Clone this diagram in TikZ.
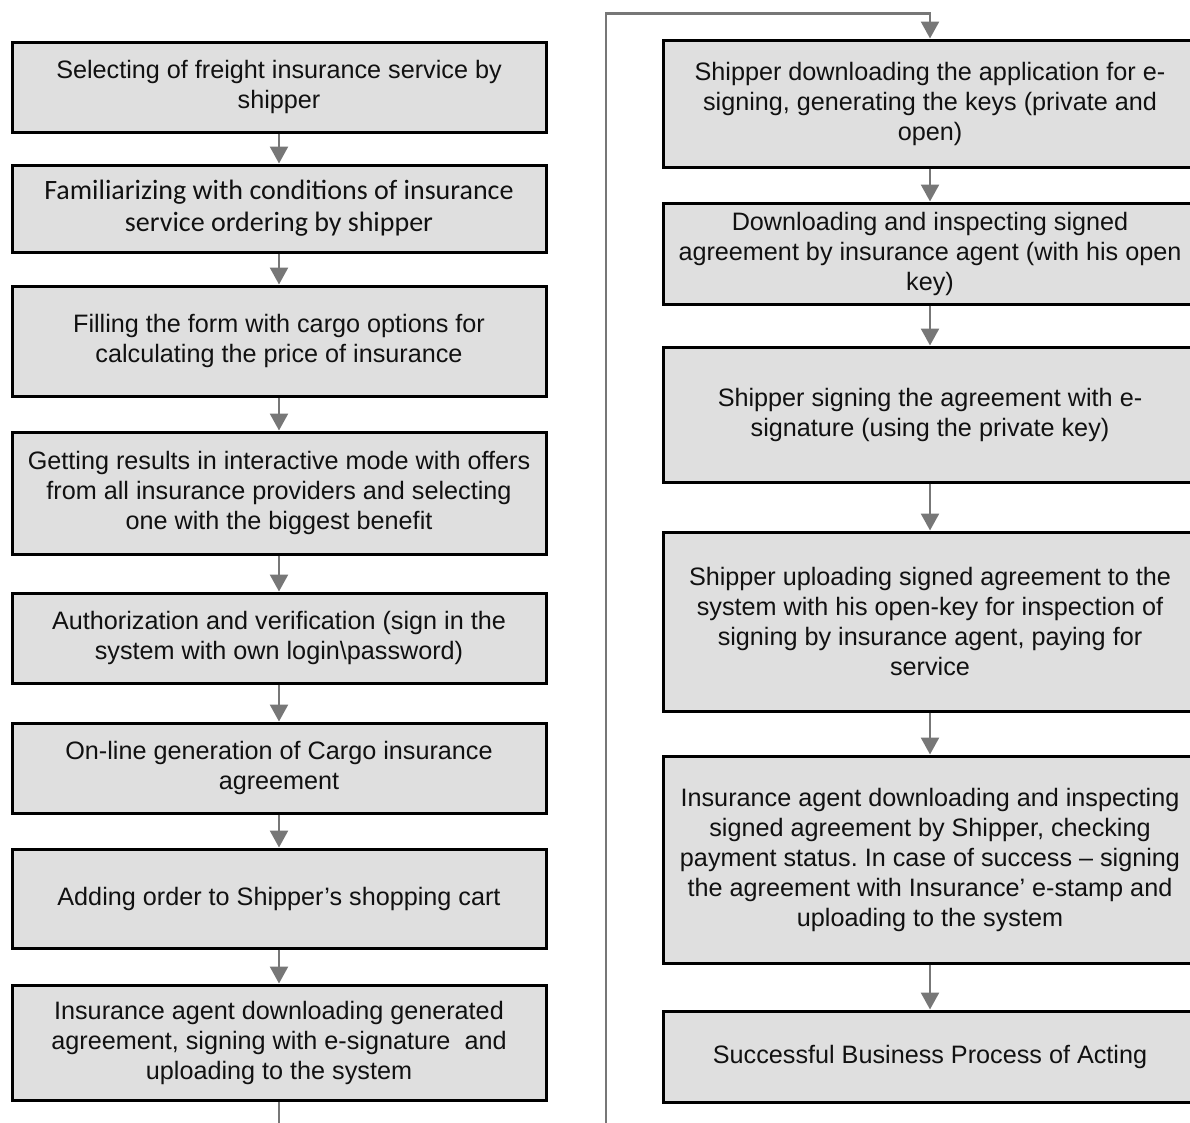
\documentclass[tikz,border=0pt]{standalone}
\usepackage{fontspec}
\setmainfont{Liberation Sans}
\newfontfamily\calib{Carlito}
\usetikzlibrary{arrows.meta}
\frenchspacing
\definecolor{boxfill}{HTML}{DFDFDF}
\definecolor{arrowgray}{HTML}{777777}
\definecolor{txt}{HTML}{111111}
\tikzset{
  stepbox/.style={draw=black, line width=3pt, fill=boxfill, align=center, inner sep=0pt,
    font=\fontsize{25.2}{30}\selectfont, text=txt},
  lbox/.style={stepbox, minimum width=534pt},
  rbox/.style={stepbox, minimum width=534pt},
  flow/.style={draw=arrowgray, line width=2.5pt, -{Triangle[width=18pt,length=17pt]}},
  flowline/.style={draw=arrowgray, line width=2.5pt}
}
\begin{document}
\begin{tikzpicture}[x=1pt,y=-1pt]
\useasboundingbox (0,0) rectangle (1190,1122);
% left column
\node[lbox, minimum height=90pt] (L1) at (279,87) {Selecting of freight insurance service by\\shipper};
\node[lbox, minimum height=87pt, font=\calib\fontsize{28}{32}\selectfont] (L2) at (279,208.5) {Familiarizing with conditions of insurance\\service ordering by shipper};
\node[lbox, minimum height=110pt] (L3) at (279,341) {Filling the form with cargo options for\\calculating the price of insurance};
\node[lbox, minimum height=122pt] (L4) at (279,493) {Getting results in interactive mode with offers\\from all insurance providers and selecting\\one with the biggest benefit};
\node[lbox, minimum height=90pt] (L5) at (279,638) {Authorization and verification (sign in the\\system with own login\textbackslash password)};
\node[lbox, minimum height=90pt] (L6) at (279,768) {On-line generation of Cargo insurance\\agreement};
\node[lbox, minimum height=99pt] (L7) at (279,898.5) {Adding order to Shipper’s shopping cart};
\node[lbox, minimum height=115pt] (L8) at (279,1042.5) {Insurance agent downloading generated\\agreement, signing with e-signature\ \ and\\uploading to the system};
% right column
\node[rbox, minimum height=127pt] (R1) at (930,103.5) {Shipper downloading the application for e-\\signing, generating the keys (private and\\open)};
\node[rbox, minimum height=101pt] (R2) at (930,253.5) {Downloading and inspecting signed\\agreement by insurance agent (with his open\\key)};
\node[rbox, minimum height=135pt] (R3) at (930,414.5) {Shipper signing the agreement with e-\\signature (using the private key)};
\node[rbox, minimum height=179pt] (R4) at (930,621.5) {Shipper uploading signed agreement to the\\system with his open-key for inspection of\\signing by insurance agent, paying for\\service};
\node[rbox, minimum height=207pt] (R5) at (930,859.5) {Insurance agent downloading and inspecting\\signed agreement by Shipper, checking\\payment status. In case of success -- signing\\the agreement with Insurance’ e-stamp and\\uploading to the system};
\node[rbox, minimum height=91pt] (R6) at (930,1056.5) {Successful Business Process of Acting};
% connectors
\foreach \a/\b in {L1/L2,L2/L3,L3/L4,L4/L5,L5/L6,L6/L7,L7/L8,R1/R2,R2/R3,R3/R4,R4/R5,R5/R6}
  \draw[flow] (\a.south) -- (\b.north);
\coordinate (lend) at (279,1125);
\coordinate (rstart) at (606,1125);
\coordinate (topleft) at (606,13.5);
\draw[flowline] (L8.south) -- (lend);
\draw[flow] (rstart) -- (topleft) -| (R1.north);
\end{tikzpicture}
\end{document}
